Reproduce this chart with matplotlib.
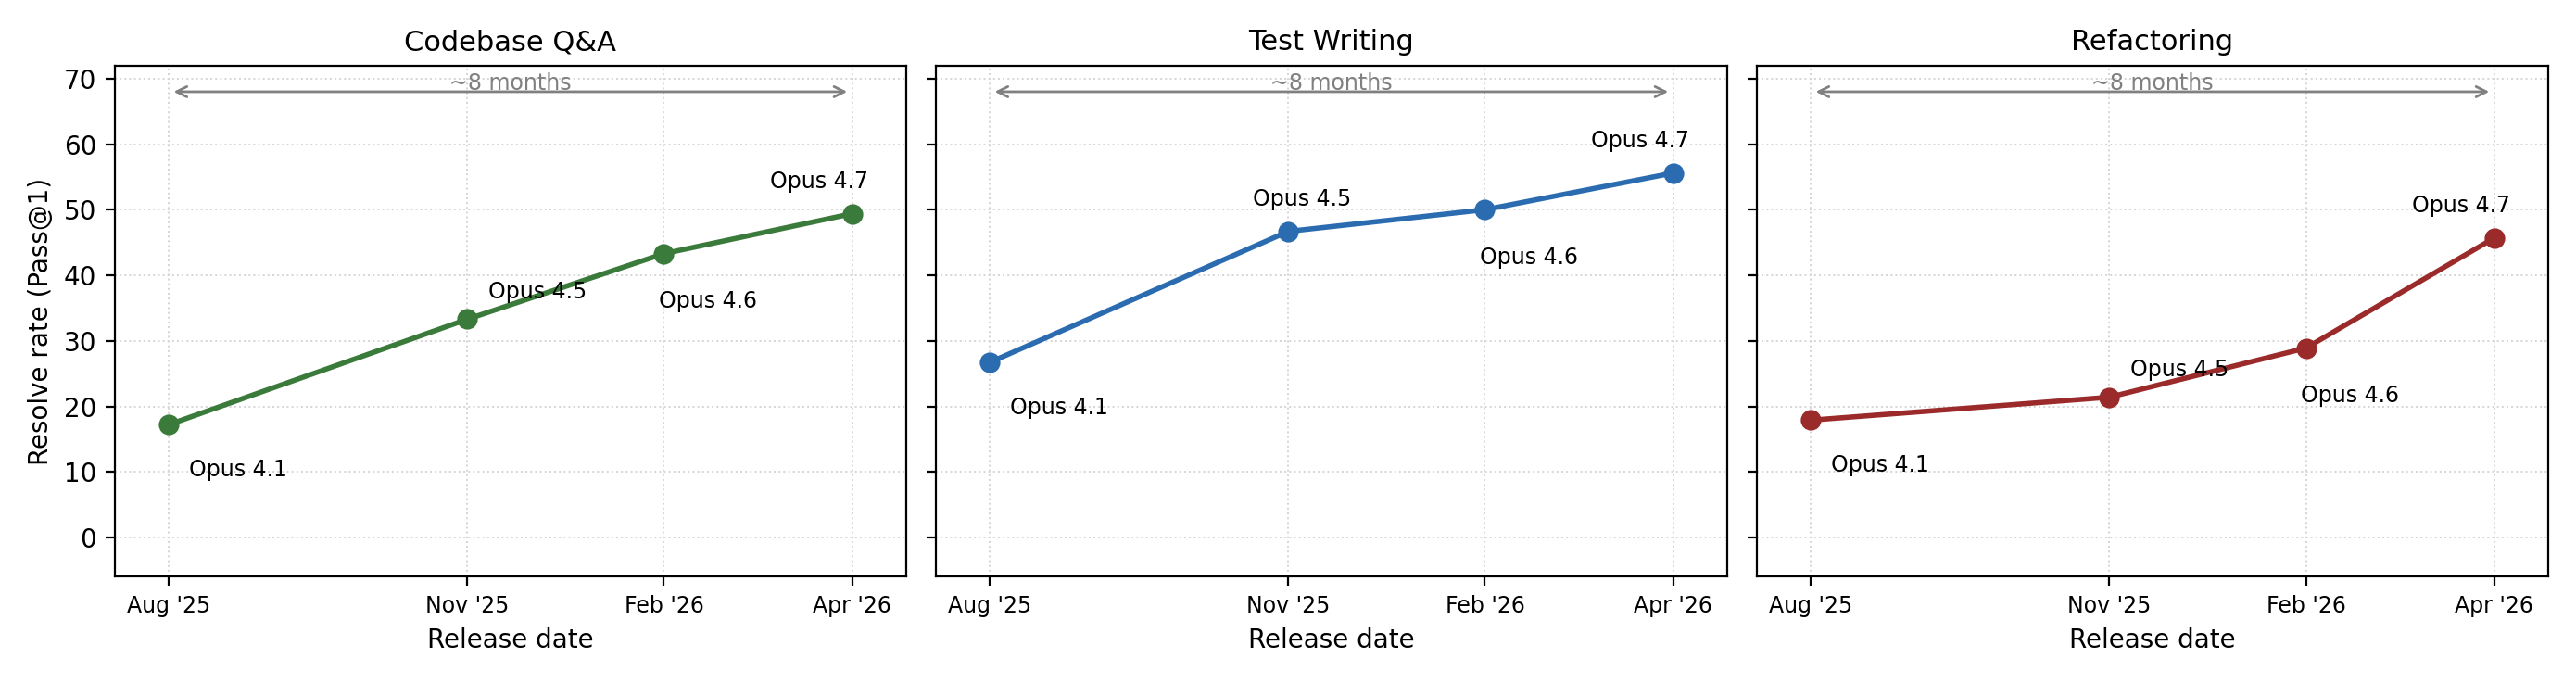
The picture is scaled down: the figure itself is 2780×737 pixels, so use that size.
import matplotlib
matplotlib.use("Agg")
import matplotlib.pyplot as plt
import pandas as pd

models = ["Opus 4.1", "Opus 4.5", "Opus 4.6", "Opus 4.7"]
release_dates = pd.to_datetime(["2025-08-05", "2025-11-24", "2026-02-05", "2026-04-16"])
date_labels = ["Aug '25", "Nov '25", "Feb '26", "Apr '26"]

panel_titles = ["Codebase Q&A", "Test Writing", "Refactoring"]
codebase_qa = [17.2, 33.3, 43.3, 49.4]
test_writing = [26.7, 46.7, 50.0, 55.6]
refactoring = [17.9, 21.4, 28.9, 45.7]
panel_values = [codebase_qa, test_writing, refactoring]
panel_colors = ["#3a7a3a", "#2b6cb0", "#9b2a2a"]

# label offsets (points) per panel, per model
offsets = [
    [(8, -20), (8, 8), (-2, -21), (-32, 10)],
    [(8, -20), (-14, 10), (-2, -21), (-32, 10)],
    [(8, -20), (8, 8), (-2, -21), (-32, 10)],
]

fig, axes = plt.subplots(1, 3, figsize=(13.9, 3.685), sharey=True)
for ax, title, values, color, offs in zip(axes, panel_titles, panel_values, panel_colors, offsets):
    ax.plot(release_dates, values, color=color, lw=2, marker="o", ms=7, zorder=3)
    for d, v, name, off in zip(release_dates, values, models, offs):
        ax.annotate(name, (d, v), xytext=off, textcoords="offset points", fontsize=8.5)
    ax.annotate("", xy=(release_dates[-1], 68), xytext=(release_dates[0], 68),
                arrowprops=dict(arrowstyle="<->", color="grey", lw=1))
    mid = release_dates[0] + (release_dates[-1] - release_dates[0]) / 2
    ax.text(mid, 67.6, "~8 months", color="grey", fontsize=8.5, ha="center", va="bottom")
    ax.set_title(title, fontsize=11)
    ax.set_xticks(release_dates)
    ax.set_xticklabels(date_labels, fontsize=8.5)
    ax.set_xlabel("Release date", fontsize=10)
    ax.set_xlim(release_dates[0] - pd.Timedelta(days=20), release_dates[-1] + pd.Timedelta(days=20))
    ax.set_ylim(-6, 72)
    ax.set_yticks(range(0, 71, 10))
    ax.grid(True, linestyle=":", color="#d5d5d5", lw=0.7)

axes[0].set_ylabel("Resolve rate (Pass@1)", fontsize=10)
fig.tight_layout(w_pad=0.8)
fig.savefig("out.png", dpi=200)
